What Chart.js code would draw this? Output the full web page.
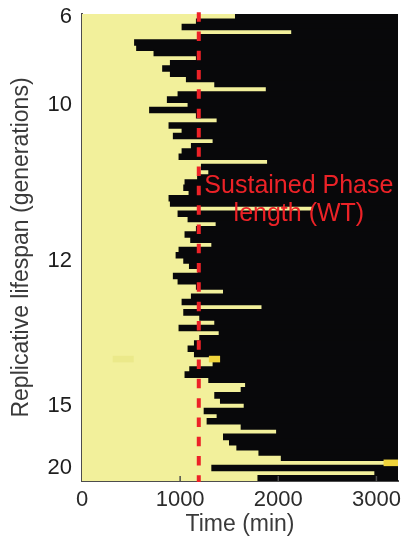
<!DOCTYPE html>
<html lang="en">
<head>
<meta charset="UTF-8">
<title>Replicative lifespan</title>
<script src="https://cdn.jsdelivr.net/npm/chart.js"></script>
<style>
    body { margin: 0; background: #fff; }
    #wrap { width: 403px; height: 541px; }
</style>
</head>
<body>
<div id="wrap"><canvas id="lifespanChart" width="403" height="541"></canvas></div>
<script>
    // one row per cell, sorted by lifespan; value = time (min) the cell leaves the yellow state
    const switchTimes = [
        1566, 1168, 1022, 2139, 1180, 538, 559, 736, 1168, 903,
        824, 903, 1066, 1355, 1880, 981, 872, 1083, 691, 1168,
        1379, 889, 1022, 933, 1338, 1117, 1022, 991, 1893, 1219,
        1294, 1180, 1052, 1039, 1093, 889, 903, 2360, 981, 1083,
        1369, 1168, 1052, 1110, 1325, 991, 961, 1039, 1097, 1185,
        933, 981, 1168, 1444, 1117, 1022, 1836, 1039, 1202, 1355,
        991, 1400, 1202, 1148, 1083, 1148, 1400, 1338, 1100, 1052,
        1294, 1669, 1624, 1355, 1413, 1655, 1247, 1379, 1277, 1624,
        1985, 1444, 1505, 1580, 1805, 2033, 3220, 1325, 2986, 1795
    ];
    const timeMax = 3220;
    const timeTicks = [0, 1000, 2000, 3000];
    // rows that carry a lifespan tick label
    const tickRows = [0, 17, 47, 75, 87];
    const tickText = ['6', '10', '12', '15', '20'];
    // small brighter patches seen in a couple of rows
    const faintRows = [66];
    const faintSpans = [[320, 520]];
    const brightRows = [66, 86];
    const brightSpans = [[1300, 1400], [3080, 3220]];
    // sustained phase length (WT)
    const phaseLength = 1190;
    const noteLines = ['Sustained Phase', 'length (WT)'];

    const rowLabels = switchTimes.map((t, i) => 'cell ' + (i + 1));

    function spanData(rows, spans) {
        const out = switchTimes.map(() => null);
        rows.forEach((r, i) => { out[r] = spans[i]; });
        return out;
    }

    const fontFamily = '"Liberation Sans", Arial, Helvetica, sans-serif';

    const notePlugin = {
        id: 'note',
        afterDatasetsDraw(chart) {
            const { ctx, chartArea } = chart;
            const x = chart.scales.x;
            const y2 = chart.scales.y2;
            ctx.save();
            // small inward ticks on the time axis
            ctx.strokeStyle = '#4d4d4d';
            ctx.lineWidth = 1.5;
            timeTicks.slice(1).forEach(v => {
                const px = x.getPixelForValue(v);
                ctx.beginPath();
                ctx.moveTo(px, chartArea.bottom);
                ctx.lineTo(px, chartArea.bottom - 5);
                ctx.stroke();
            });
            ctx.fillStyle = '#ec2227';
            ctx.font = '25px ' + fontFamily;
            ctx.textAlign = 'center';
            ctx.textBaseline = 'alphabetic';
            ctx.fillText(noteLines[0], x.getPixelForValue(2210), y2.getPixelForValue(0.617));
            ctx.fillText(noteLines[1], x.getPixelForValue(2210), y2.getPixelForValue(0.557));
            ctx.restore();
        }
    };

    const ctx = document.getElementById('lifespanChart').getContext('2d');
    new Chart(ctx, {
        type: 'bar',
        data: {
            labels: rowLabels,
            datasets: [{
                label: 'before',
                data: switchTimes,
                backgroundColor: '#f2f09b',
                order: 3
            }, {
                label: 'after',
                data: switchTimes.map(t => [t, timeMax]),
                backgroundColor: '#08080a',
                order: 2
            }, {
                label: 'faint',
                data: spanData(faintRows, faintSpans),
                backgroundColor: '#ebe98a',
                order: 1
            }, {
                label: 'bright',
                data: spanData(brightRows, brightSpans),
                backgroundColor: '#f0d43c',
                order: 1
            }, {
                type: 'line',
                label: 'phase',
                data: [{ x: phaseLength, y: 1.004 }, { x: phaseLength, y: -0.002 }],
                yAxisID: 'y2',
                borderColor: '#ec2227',
                borderWidth: 4,
                borderDash: [9.5, 9.8],
                pointRadius: 0,
                clip: false,
                order: 0
            }]
        },
        options: {
            indexAxis: 'y',
            responsive: false,
            animation: false,
            datasets: {
                bar: {
                    grouped: false,
                    barPercentage: 1,
                    categoryPercentage: 1,
                    borderWidth: 0,
                    inflateAmount: 0.7
                }
            },
            layout: { padding: { left: 0, right: 5, top: 14, bottom: 0 } },
            plugins: {
                legend: { display: false },
                tooltip: { enabled: false }
            },
            scales: {
                x: {
                    type: 'linear',
                    min: 0,
                    max: timeMax,
                    grid: { display: false, drawTicks: false },
                    border: { display: true, color: '#4d4d4d', width: 2 },
                    ticks: {
                        maxRotation: 0,
                        padding: 6,
                        color: '#2b2b2b',
                        font: { family: fontFamily, size: 22 },
                        callback: v => String(v)
                    },
                    afterBuildTicks(scale) {
                        scale.ticks = timeTicks.map(v => ({ value: v }));
                    },
                    title: {
                        display: true,
                        text: 'Time (min)',
                        color: '#3a3a3a',
                        padding: 3,
                        font: { family: fontFamily, size: 23 }
                    },
                    afterFit(scale) {
                        scale.height = 60;
                        scale.paddingLeft = 0;
                        scale.paddingRight = 0;
                    }
                },
                y: {
                    type: 'category',
                    grid: { display: false, drawTicks: false },
                    border: { display: true, color: '#4d4d4d', width: 2 },
                    ticks: {
                        autoSkip: false,
                        padding: 10,
                        color: '#1e1e1e',
                        font: { family: fontFamily, size: 22 },
                        callback: function (value, index) {
                            const j = tickRows.indexOf(index);
                            return j >= 0 ? tickText[j] : '';
                        }
                    },
                    title: {
                        display: true,
                        text: 'Replicative lifespan (generations)',
                        color: '#3a3a3a',
                        padding: 8,
                        font: { family: fontFamily, size: 23 }
                    },
                    afterFit(scale) {
                        scale.width = 82;
                        scale.paddingTop = 0;
                        scale.paddingBottom = 0;
                    }
                },
                y2: {
                    type: 'linear',
                    display: false,
                    offset: false,
                    min: 0,
                    max: 1
                }
            }
        },
        plugins: [notePlugin]
    });
</script>
</body>
</html>
